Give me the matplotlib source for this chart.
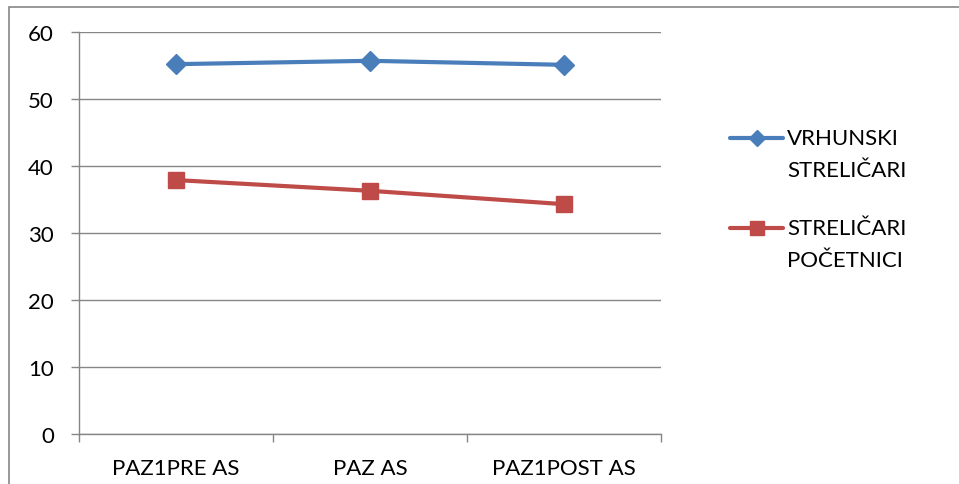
import matplotlib
matplotlib.use("Agg")
import matplotlib.pyplot as plt
from matplotlib.patches import Rectangle
from matplotlib.lines import Line2D

categories = ["PAZ1PRE AS", "PAZ AS", "PAZ1POST AS"]
vrhunski = [55.2, 55.7, 55.1]
pocetnici = [37.9, 36.3, 34.3]
labels = ["VRHUNSKI\nSTRELIČARI", "STRELIČARI\nPOČETNICI"]
yticks = [0, 10, 20, 30, 40, 50, 60]
colors = ['#4A7EBB', '#BE4B48']
markers = ['D', 's']
msizes = [10, 12]

plt.rcParams['font.family'] = ['Lato', 'DejaVu Sans']
W, H = 959, 485
fig = plt.figure(figsize=(W/100, H/100), dpi=100)
fig.patches.append(Rectangle((9/W, -0.1), 1.2, (H-8)/H + 0.1, transform=fig.transFigure,
                             fill=False, edgecolor='#868686', linewidth=1.2))

ax = fig.add_axes([79/W, 1-435/H, (661-79)/W, (435-33)/H])
x = [0.5, 1.5, 2.5]
for vals, c, m, ms in zip([vrhunski, pocetnici], colors, markers, msizes):
    ax.plot(x, vals, color=c, lw=3, marker=m, ms=ms)
ax.set_xlim(0, 3)
ax.set_ylim(0, 60)
ax.set_yticks(yticks)
ax.set_xticks([0, 1, 2, 3])
ax.set_xticklabels([])
ax.set_xticks(x, minor=True)
ax.set_xticklabels(categories, minor=True, fontsize=16)
ax.tick_params(axis='x', which='minor', length=0, pad=17)
ax.tick_params(axis='x', which='major', length=6, color='#868686', width=1)
ax.tick_params(axis='y', length=6, color='#868686', width=1, labelsize=16, pad=12)
ax.grid(axis='y', color='#868686', lw=1)
ax.set_axisbelow(True)
for s in ['top', 'right']:
    ax.spines[s].set_visible(False)
for s in ['left', 'bottom']:
    ax.spines[s].set_color('#868686')
    ax.spines[s].set_linewidth(1)

# legend drawn manually: handle aligned with first text line
leg_y = [139, 229]
for lab, c, m, ms, yy in zip(labels, colors, markers, msizes, leg_y):
    fy = 1 - yy/H
    fig.add_artist(Line2D([730/W, 783/W], [fy, fy], transform=fig.transFigure, color=c, lw=3,
                          solid_capstyle='round'))
    fig.add_artist(Line2D([757/W], [fy], transform=fig.transFigure, color=c, marker=m,
                          ms=ms*0.85, lw=0))
    fig.text(787/W, fy + 10/H, lab, transform=fig.transFigure, fontsize=16, va='top', ha='left',
             linespacing=1.75)

fig.savefig("out.png", dpi=100)
